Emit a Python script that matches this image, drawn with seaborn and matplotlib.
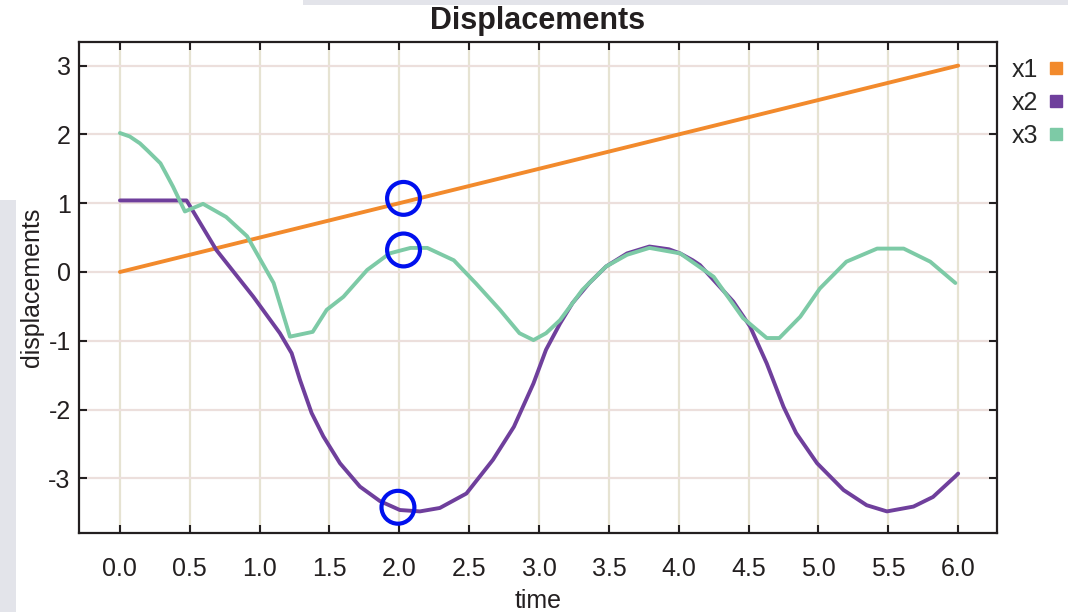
import matplotlib
matplotlib.use("Agg")
import matplotlib.pyplot as plt
from matplotlib.lines import Line2D
from matplotlib.patches import Rectangle
import pandas as pd
import seaborn as sns

# x1: steady linear growth
t_x1 = [0.0, 0.5, 1.0, 1.5, 2.0, 2.5, 3.0, 3.5, 4.0, 4.5, 5.0, 5.5, 6.0]
v_x1 = [0.0, 0.25, 0.5, 0.75, 1.0, 1.25, 1.5, 1.75, 2.0, 2.25, 2.5, 2.75, 3.0]

# x2: held, then released into a large oscillation
t_x2 = [0.0, 0.477, 0.69, 0.955, 1.145, 1.229, 1.289, 1.372, 1.456, 1.575,
        1.718, 1.861, 2.004, 2.147, 2.29, 2.48, 2.67, 2.82, 2.96, 3.05, 3.15,
        3.24, 3.36, 3.48, 3.63, 3.79, 3.93, 4.01, 4.10, 4.152, 4.39, 4.51,
        4.63, 4.75, 4.84, 4.99, 5.18, 5.345, 5.49, 5.68, 5.82, 5.98, 6.0]
v_x2 = [1.04, 1.04, 0.32, -0.36, -0.89, -1.18, -1.57, -2.05, -2.39, -2.78,
        -3.12, -3.33, -3.46, -3.48, -3.43, -3.22, -2.73, -2.25, -1.62, -1.13, -0.75,
        -0.45, -0.16, 0.08, 0.27, 0.37, 0.33, 0.27, 0.17, 0.10, -0.43, -0.79,
        -1.33, -1.96, -2.34, -2.78, -3.17, -3.39, -3.48, -3.41, -3.27, -2.97, -2.93]

# x3: bouncing oscillation
t_x3 = [0.0, 0.07, 0.143, 0.2, 0.29, 0.33, 0.38, 0.465, 0.595, 0.76, 0.91,
        1.10, 1.217, 1.38, 1.48, 1.60, 1.77, 1.93, 2.08, 2.20, 2.39, 2.55,
        2.72, 2.86, 2.96, 3.05, 3.15, 3.31, 3.48, 3.63, 3.79, 4.01, 4.25,
        4.46, 4.63, 4.72, 4.87, 5.01, 5.20, 5.42, 5.61, 5.80, 5.98]
v_x3 = [2.02, 1.97, 1.87, 1.76, 1.58, 1.43, 1.24, 0.88, 0.99, 0.80, 0.52,
        -0.16, -0.94, -0.87, -0.55, -0.36, 0.03, 0.27, 0.35, 0.35, 0.17, -0.17,
        -0.55, -0.89, -0.99, -0.89, -0.70, -0.26, 0.08, 0.25, 0.35, 0.27, -0.07,
        -0.67, -0.96, -0.96, -0.65, -0.24, 0.15, 0.34, 0.34, 0.15, -0.16]

# highlighted samples near t = 2
mark_t = [2.03, 2.03, 1.99]
mark_v = [1.07, 0.32, -3.42]

series_names = ["x1", "x2", "x3"]
series_colors = ["#f28a2c", "#6f3f9c", "#7dcaa6"]

frames = []
for name, t, v in zip(series_names, [t_x1, t_x2, t_x3], [v_x1, v_x2, v_x3]):
    frames.append(pd.DataFrame({"time": t, "displacements": v, "series": name}))
df = pd.concat(frames, ignore_index=True)

sns.set_theme(style="white")
plt.rcParams["font.family"] = ["Liberation Sans", "DejaVu Sans"]

fig = plt.figure(figsize=(10.68, 6.12), dpi=100)
fig.patch.set_facecolor("white")

# window chrome around the plot
fig.add_artist(Rectangle((0, 0), 16 / 1068, 412 / 612, transform=fig.transFigure,
                         facecolor="#e3e4ea", edgecolor="none", zorder=0))
fig.add_artist(Rectangle((303 / 1068, 1 - 5 / 612), 765 / 1068, 5 / 612,
                         transform=fig.transFigure, facecolor="#e3e4ea",
                         edgecolor="none", zorder=0))

ax = fig.add_axes([79 / 1068, 1 - 533 / 612, 918 / 1068, 491 / 612])

sns.lineplot(data=df, x="time", y="displacements", hue="series",
             palette=dict(zip(series_names, series_colors)),
             estimator=None, sort=False, linewidth=2.8, ax=ax, legend=False)

ax.scatter(mark_t, mark_v, s=560, facecolors="none", edgecolors="#0010ee",
           linewidths=3.0, zorder=5)

xticks = [0.0, 0.5, 1.0, 1.5, 2.0, 2.5, 3.0, 3.5, 4.0, 4.5, 5.0, 5.5, 6.0]
yticks = [-3, -2, -1, 0, 1, 2, 3]
ax.set_xlim(-0.293, 6.278)
ax.set_ylim(-3.794, 3.343)
ax.set_xticks(xticks)
ax.set_xticklabels([f"{x:.1f}" for x in xticks])
ax.set_yticks(yticks)
ax.set_yticklabels([str(y) for y in yticks])

for x in xticks:
    ax.axvline(x, color="#e6e3d2", linewidth=1.6, zorder=0)
for y in yticks:
    ax.axhline(y, color="#ecdfdc", linewidth=1.6, zorder=0)

for s in ax.spines.values():
    s.set_visible(True)
    s.set_color("#231f20")
    s.set_linewidth(1.6)

ax.tick_params(axis="both", direction="in", length=6, width=1.5, color="#231f20",
               top=True, right=True, bottom=True, left=True,
               labelsize=18, labelcolor="#231f20")
ax.tick_params(axis="x", pad=17)
ax.tick_params(axis="y", pad=6)

ax.set_xlabel("time", fontsize=18, color="#231f20", labelpad=6)
ax.set_ylabel("displacements", fontsize=18, color="#231f20", labelpad=3)
ax.set_title("Displacements", fontsize=22, fontweight="bold", color="#231f20", pad=9)

handles = [Line2D([0], [0], marker="s", linestyle="none", markersize=9,
                  markerfacecolor=c, markeredgecolor=c) for c in series_colors]
ax.legend(handles, series_names, loc="upper left", bbox_to_anchor=(1.016, 0.968),
          frameon=False, markerfirst=False, fontsize=18, handletextpad=0.3,
          labelspacing=0.36, borderaxespad=0.0, borderpad=0.0, handlelength=0.8)

fig.savefig("out.png", dpi=100)
